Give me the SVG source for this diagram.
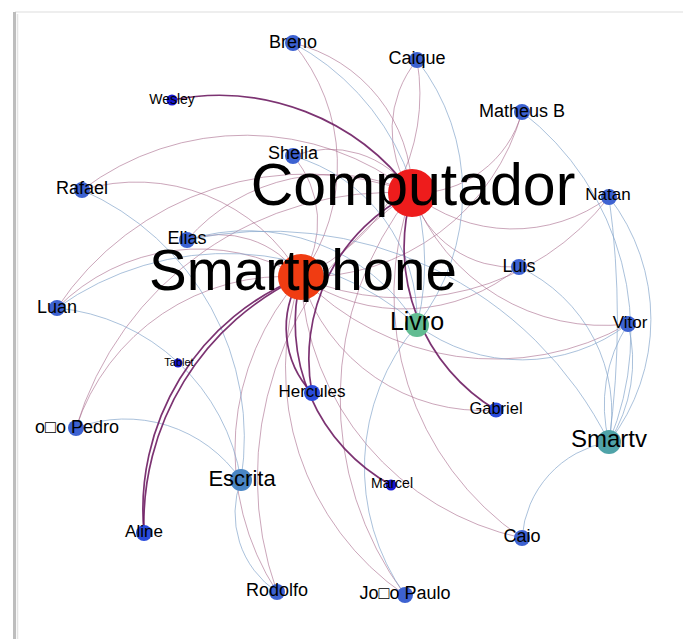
<svg xmlns="http://www.w3.org/2000/svg" width="683" height="639" viewBox="0 0 683 639">
<style>
text{font-family:"Liberation Sans",Arial,"DejaVu Sans",sans-serif;fill:#000;text-anchor:middle}
.m{fill:none;stroke:#a86a8c;stroke-opacity:.6;stroke-width:1}
.b{fill:none;stroke:#86a6cc;stroke-opacity:.7;stroke-width:1}
.d{fill:none;stroke:#6e1d63;stroke-opacity:.9;stroke-width:1.7}
.p{fill:#3d62d1}
.p2{fill:#2a4bdc}
.s{fill:#1717d0}
.f18{font-size:18px}
</style>
<rect width="683" height="639" fill="#fff"/>
<g id="frame">
<line x1="15" y1="12" x2="683" y2="12" stroke="#e8e8e8" stroke-width="1.5"/>
<line x1="14.5" y1="12" x2="14.5" y2="639" stroke="#bdbdbd" stroke-width="3"/>
<line x1="17.5" y1="14" x2="17.5" y2="639" stroke="#e4e4e4" stroke-width="1.5"/>
</g>
<g id="connectors">
<path class="m" d="M293,43 A155,155 0 0 1 412,193"/>
<path class="m" d="M293,43 A190,190 0 0 1 301,277"/>
<path class="m" d="M412,193 A110,110 0 0 1 417,60"/>
<path class="m" d="M417,60 A200,200 0 0 1 301,277"/>
<path class="m" d="M522,112 A110,110 0 0 1 412,193"/>
<path class="m" d="M522,112 A225,225 0 0 1 301,277"/>
<path class="m" d="M609,197 A160,160 0 0 1 412,193"/>
<path class="m" d="M609,197 A260,260 0 0 1 301,277"/>
<path class="m" d="M519,267 A105,105 0 0 1 412,193"/>
<path class="m" d="M519,267 A180,180 0 0 1 301,277"/>
<path class="m" d="M628,324 A205,205 0 0 1 412,193"/>
<path class="m" d="M628,324 A270,270 0 0 1 301,277"/>
<path class="m" d="M293,156 A100,100 0 0 1 412,193"/>
<path class="m" d="M293,156 A100,100 0 0 1 301,277"/>
<path class="m" d="M82,190 A270,270 0 0 1 412,193"/>
<path class="m" d="M82,190 A190,190 0 0 1 301,277"/>
<path class="m" d="M187,240 A190,190 0 0 1 412,193"/>
<path class="m" d="M187,240 A100,100 0 0 1 301,277"/>
<path class="m" d="M57,308 A300,300 0 0 1 412,193"/>
<path class="m" d="M57,308 A200,200 0 0 1 301,277"/>
<path class="m" d="M76,428 A330,330 0 0 1 412,193"/>
<path class="m" d="M76,428 A220,220 0 0 1 301,277"/>
<path class="m" d="M277,592 A340,340 0 0 1 412,193"/>
<path class="m" d="M277,592 A260,260 0 0 1 301,277"/>
<path class="m" d="M405,595 A330,330 0 0 1 412,193"/>
<path class="m" d="M405,595 A275,275 0 0 1 301,277"/>
<path class="m" d="M522,538 A295,295 0 0 1 412,193"/>
<path class="m" d="M522,538 A280,280 0 0 1 301,277"/>
<path class="m" d="M496,410 A190,190 0 0 1 301,277"/>
<path class="b" d="M293,43 A250,250 0 0 1 417,325"/>
<path class="b" d="M417,60 A215,215 0 0 1 417,325"/>
<path class="b" d="M293,156 A170,170 0 0 1 417,325"/>
<path class="b" d="M187,240 A200,200 0 0 1 417,325"/>
<path class="b" d="M57,308 A290,290 0 0 1 417,325"/>
<path class="b" d="M628,324 A175,175 0 0 1 417,325"/>
<path class="b" d="M405,595 A220,220 0 0 1 417,325"/>
<path class="b" d="M82,190 A270,270 0 0 1 241,480"/>
<path class="b" d="M57,308 A206,206 0 0 1 241,480"/>
<path class="b" d="M76,428 A140,140 0 0 1 241,480"/>
<path class="b" d="M277,592 A95,95 0 0 1 241,480"/>
<path class="b" d="M522,112 A280,280 0 0 1 609,442"/>
<path class="b" d="M609,197 A200,200 0 0 1 609,442"/>
<path class="b" d="M609,197 A900,900 0 0 1 609,442"/>
<path class="b" d="M519,267 A160,160 0 0 1 609,442"/>
<path class="b" d="M628,324 A150,150 0 0 1 609,442"/>
<path class="b" d="M609,442 A150,150 0 0 1 628,324"/>
<path class="b" d="M522,538 A105,105 0 0 1 609,442"/>
<path class="b" d="M187,240 A380,380 0 0 1 609,442"/>
<path class="d" d="M172,100 A240,240 0 0 1 412,193"/>
<path class="d" d="M144,533 A250,250 0 0 1 301,277"/>
<path class="d" d="M144,533 A272,272 0 0 1 301,277"/>
<path class="d" d="M312,393 A95,95 0 0 1 301,277"/>
<path class="d" d="M312,393 A185,185 0 0 1 412,193"/>
<path class="d" d="M391,485 A185,185 0 0 1 301,277"/>
<path class="d" d="M496,410 A190,190 0 0 1 412,193"/>
</g>
<g id="n-computador"><circle cx="412" cy="193" r="24" fill="#ee1c1c"/><text x="413" y="205" font-size="59">Computador</text></g>
<g id="n-smartphone"><circle cx="301" cy="277" r="23" fill="#f03c12"/><text x="303" y="290" font-size="56.5">Smartphone</text></g>
<g id="n-livro"><circle cx="417" cy="325" r="12" fill="#62bc92"/><text x="417" y="330" font-size="25">Livro</text></g>
<g id="n-escrita"><circle cx="241" cy="480" r="11" fill="#4a86c5"/><text x="242" y="486" font-size="22">Escrita</text></g>
<g id="n-smartv"><circle cx="609" cy="442" r="12" fill="#4fa3a8"/><text x="609" y="447" font-size="24">Smartv</text></g>
<g id="n-tablet"><circle cx="178" cy="363" r="4.5" class="s"/><text x="179" y="366" font-size="11">Tablet</text></g>
<g id="n-breno"><circle cx="293" cy="43" r="8" class="p"/><text x="293" y="48" class="f18">Breno</text></g>
<g id="n-wesley"><circle cx="172" cy="100" r="5.5" class="s"/><text x="172" y="104" font-size="14">Wesley</text></g>
<g id="n-caique"><circle cx="417" cy="60" r="8" class="p"/><text x="417" y="64" class="f18">Caique</text></g>
<g id="n-matheus"><circle cx="522" cy="112" r="8" class="p"/><text x="522" y="117" class="f18">Matheus B</text></g>
<g id="n-sheila"><circle cx="293" cy="156" r="8" class="p"/><text x="293" y="159" class="f18">Sheila</text></g>
<g id="n-rafael"><circle cx="82" cy="190" r="8" class="p"/><text x="82" y="194" class="f18">Rafael</text></g>
<g id="n-natan"><circle cx="609" cy="197" r="8" class="p"/><text x="608" y="200" font-size="17">Natan</text></g>
<g id="n-elias"><circle cx="187" cy="240" r="8" class="p"/><text x="187" y="244" class="f18">Elias</text></g>
<g id="n-luis"><circle cx="519" cy="267" r="8" class="p"/><text x="519" y="272" class="f18">Luis</text></g>
<g id="n-luan"><circle cx="57" cy="308" r="8" class="p"/><text x="57" y="313" class="f18">Luan</text></g>
<g id="n-vitor"><circle cx="628" cy="324" r="8" class="p"/><text x="630" y="328" font-size="17">Vitor</text></g>
<g id="n-hercules"><circle cx="312" cy="393" r="8" class="p2"/><text x="312" y="397" font-size="17">Hercules</text></g>
<g id="n-pedro"><circle cx="76" cy="428" r="8" class="p"/><text x="35" y="433" class="f18" style="text-anchor:start">o□o Pedro</text></g>
<g id="n-gabriel"><circle cx="496" cy="410" r="7.5" class="p2"/><text x="496" y="414" font-size="16.5">Gabriel</text></g>
<g id="n-marcel"><circle cx="391" cy="485" r="5.5" class="s"/><text x="392" y="488" font-size="14">Marcel</text></g>
<g id="n-aline"><circle cx="144" cy="533" r="8" class="p2"/><text x="144" y="537" font-size="17">Aline</text></g>
<g id="n-caio"><circle cx="522" cy="538" r="8" class="p"/><text x="522" y="542" class="f18">Caio</text></g>
<g id="n-rodolfo"><circle cx="277" cy="592" r="8" class="p"/><text x="277" y="596" class="f18">Rodolfo</text></g>
<g id="n-paulo"><circle cx="405" cy="595" r="8" class="p"/><text x="405" y="599" class="f18">Jo□o Paulo</text></g>
</svg>
